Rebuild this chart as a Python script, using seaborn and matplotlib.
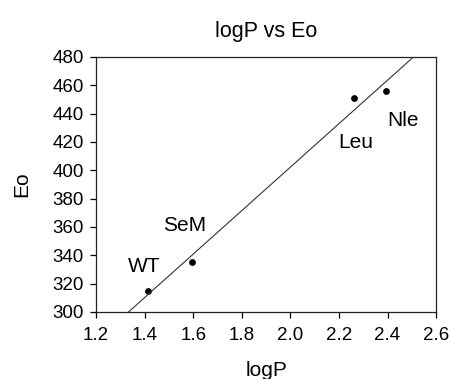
import pandas as pd
import matplotlib
matplotlib.use('Agg')
import matplotlib.pyplot as plt
import seaborn as sns

# --- 数据 ---
labels = ['WT', 'SeM', 'Leu', 'Nle']
logp = [1.413, 1.594, 2.263, 2.393]
eo = [315, 335, 451, 456]
# 标注文字位置（数据坐标）
label_x = [1.396, 1.566, 2.268, 2.464]
label_y = [332, 361, 419.5, 435]

x_ticks = [1.2, 1.4, 1.6, 1.8, 2.0, 2.2, 2.4, 2.6]
y_ticks = [300, 320, 340, 360, 380, 400, 420, 440, 460, 480]

df = pd.DataFrame({'logP': logp, 'Eo': eo, 'name': labels})

sns.set_style("ticks")
plt.rcParams['font.family'] = ['Liberation Sans', 'DejaVu Sans']
plt.rcParams['text.color'] = 'black'
plt.rcParams['axes.labelcolor'] = 'black'

fig = plt.figure(figsize=(4.51, 3.79), dpi=100)
ax = fig.add_axes([0.213, 0.177, 0.754, 0.673])

ax.set_xlim(1.2, 2.6)
ax.set_ylim(300, 480)

# 回归线延伸到整个坐标范围
sns.regplot(data=df, x='logP', y='Eo', ax=ax, ci=None, truncate=False,
            scatter_kws={'s': 24, 'color': 'black', 'linewidths': 0, 'alpha': 1},
            line_kws={'color': '#333333', 'linewidth': 0.8})

for name, tx, ty in zip(labels, label_x, label_y):
    ax.text(tx, ty, name, ha='center', va='center', fontsize=15, color='black')

ax.set_xlim(1.2, 2.6)
ax.set_ylim(300, 480)
ax.set_xticks(x_ticks)
ax.set_xticklabels([f'{v:.1f}' for v in x_ticks])
ax.set_yticks(y_ticks)
ax.tick_params(axis='both', direction='out', length=4, width=0.9, colors='black', labelsize=13.5)
ax.tick_params(axis='x', pad=7)
ax.tick_params(axis='y', pad=5)

for side in ['left', 'bottom', 'top', 'right']:
    ax.spines[side].set_visible(True)
    ax.spines[side].set_color('#222222')
    ax.spines[side].set_linewidth(0.9)

ax.set_title('logP vs Eo', fontsize=15.5, pad=14, color='black')
ax.set_xlabel('logP', fontsize=15, labelpad=12)
ax.set_ylabel('Eo', fontsize=15, labelpad=15)

fig.savefig('out.png', dpi=100, facecolor='white')
